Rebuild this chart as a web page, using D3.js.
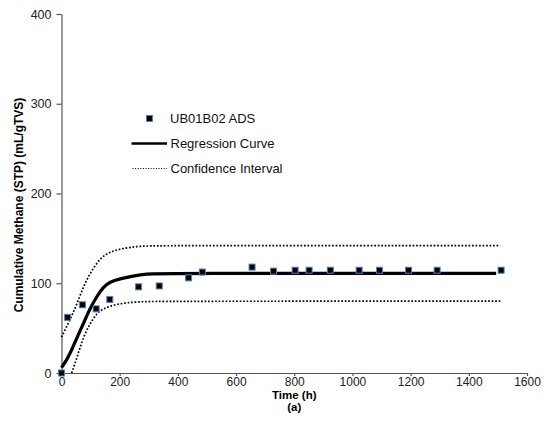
<!DOCTYPE html>
<html>
<head>
<meta charset="utf-8">
<script src="https://cdn.jsdelivr.net/npm/d3@7"></script>
<style>
  body { margin: 0; background: #fff; }
  text { font-family: "Liberation Sans", Arial, sans-serif; }
</style>
</head>
<body>
<div id="chart"></div>
<script>
// measured data (time in h, methane in mL/gTVS)
const obsTime  = [0, 21, 72, 119, 166, 265, 336, 437, 484, 655, 729, 803, 851, 924, 1023, 1093, 1193, 1291, 1511];
const obsValue = [0, 62, 76, 71.5, 82, 96, 97, 106, 112.5, 118, 113.5, 114.5, 114.5, 114.5, 114.5, 114.5, 114.5, 114.5, 114.5];

// curves
const regTime  = [0, 18, 35, 52, 75, 98, 121, 144, 166, 200, 246, 290, 350, 1494];
const regValue = [6, 14.5, 25.6, 38.6, 55, 72, 85, 96, 101.5, 105, 108, 110.5, 111, 111];
const upTime   = [0, 29, 52, 75, 98, 132, 166, 212, 269, 350, 1508];
const upValue  = [40, 59, 76, 96, 111, 128, 135, 139, 141.5, 142, 142];
const loTime   = [35, 58, 75, 98, 121, 144, 190, 258, 350, 1508];
const loValue  = [0, 22, 40, 55, 66.5, 72, 77, 79.5, 80, 80];

const xTicks = [0, 200, 400, 600, 800, 1000, 1200, 1400, 1600];
const yTicks = [0, 100, 200, 300, 400];

const legendLabels = ["UB01B02 ADS", "Regression Curve", "Confidence Interval"];

const W = 551, H = 445;
const svg = d3.select("#chart").append("svg")
    .attr("width", W).attr("height", H);

const x = d3.scaleLinear().domain([0, 1600]).range([61.5, 527]);
const y = d3.scaleLinear().domain([0, 400]).range([373, 14]);

// axes
const xAxis = svg.append("g")
    .attr("transform", "translate(0," + y(0) + ")")
    .call(d3.axisBottom(x).tickValues(xTicks).tickFormat(d3.format("d"))
        .tickSize(3).tickSizeOuter(0));
const yAxis = svg.append("g")
    .attr("transform", "translate(" + x(0) + ",0)")
    .call(d3.axisLeft(y).tickValues(yTicks).tickFormat(d3.format("d"))
        .tickSize(5).tickSizeOuter(0).tickPadding(5));

[xAxis, yAxis].forEach(a => {
    a.select(".domain").attr("stroke", "#555").attr("stroke-width", 1.2);
    a.selectAll(".tick line").attr("stroke", "#555").attr("stroke-width", 1.2);
    a.selectAll(".tick text")
        .attr("fill", "#222")
        .style("font-size", "12.5px")
        .style("font-family", "'Liberation Sans', Arial, sans-serif");
});
xAxis.selectAll(".tick text").attr("y", 4.5).style("font-size", "12px");

// axis titles
svg.append("text")
    .attr("x", x(800)).attr("y", 398.5)
    .attr("text-anchor", "middle")
    .style("font-size", "11.5px").style("font-weight", "bold")
    .text("Time (h)");
svg.append("text")
    .attr("x", x(800)).attr("y", 410.5)
    .attr("text-anchor", "middle")
    .style("font-size", "11.5px").style("font-weight", "bold")
    .text("(a)");
svg.append("text")
    .attr("transform", "translate(23," + 205 + ") rotate(-90)")
    .attr("text-anchor", "middle")
    .style("font-size", "12px").style("font-weight", "bold")
    .text("Cumulative Methane (STP) (mL/gTVS)");

// lines
const line = d3.line().x(d => x(d[0])).y(d => y(d[1])).curve(d3.curveBasis);

svg.append("path")
    .datum(d3.zip(upTime, upValue))
    .attr("d", line).attr("fill", "none")
    .attr("stroke", "#000").attr("stroke-width", 1.7)
    .attr("stroke-dasharray", "1.7,1.8");
svg.append("path")
    .datum(d3.zip(loTime, loValue))
    .attr("d", line).attr("fill", "none")
    .attr("stroke", "#000").attr("stroke-width", 1.7)
    .attr("stroke-dasharray", "1.7,1.8");
svg.append("path")
    .datum(d3.zip(regTime, regValue))
    .attr("d", line).attr("fill", "none")
    .attr("stroke", "#000").attr("stroke-width", 3.2);

// observed points
svg.append("g").selectAll("rect")
    .data(d3.zip(obsTime, obsValue))
    .enter().append("rect")
    .attr("x", d => x(d[0]) - 3)
    .attr("y", d => y(d[1]) - 3)
    .attr("width", 6).attr("height", 6)
    .attr("fill", "#000")
    .attr("stroke", "#4f81bd").attr("stroke-width", 1);

// legend
const lg = svg.append("g");
lg.append("rect")
    .attr("x", 146.5).attr("y", 115.5).attr("width", 6).attr("height", 6)
    .attr("fill", "#000").attr("stroke", "#4f81bd").attr("stroke-width", 1);
lg.append("line")
    .attr("x1", 131.5).attr("x2", 167).attr("y1", 143.5).attr("y2", 143.5)
    .attr("stroke", "#000").attr("stroke-width", 2.6);
lg.append("line")
    .attr("x1", 132.5).attr("x2", 167).attr("y1", 168.5).attr("y2", 168.5)
    .attr("stroke", "#000").attr("stroke-width", 1)
    .attr("stroke-dasharray", "1,1.6");
legendLabels.forEach((t, i) => {
    lg.append("text")
        .attr("x", i === 0 ? 170 : 170.5)
        .attr("y", 123 + i * 25)
        .style("font-size", "13px")
        .attr("fill", "#111")
        .text(t);
});
</script>
</body>
</html>
